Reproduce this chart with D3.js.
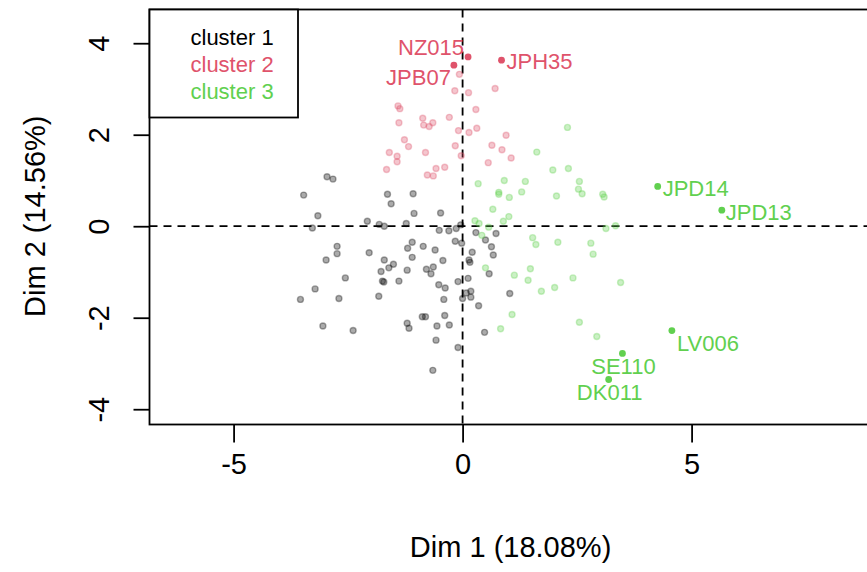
<!DOCTYPE html>
<html>
<head>
<meta charset="utf-8">
<script src="https://cdn.jsdelivr.net/npm/d3@7"></script>
<style>
	body { margin: 0; background: #ffffff; }
	text { font-family: "Liberation Sans", Arial, sans-serif; }
</style>
</head>
<body>
<div id="chart"></div>
<script>

// nomes e cores dos clusters
var clusterNames = ["cluster 1", "cluster 2", "cluster 3"];
var clusterColors = ["#000000", "#DF536B", "#61D04F"];

// individuos [Dim 1, Dim 2] por cluster
var cluster1 = [
	[-2.96, 1.08], [-2.83, 1.03], [-3.47, 0.68], [-1.64, 0.70], [-1.08, 0.71], [-1.56, 0.49],
	[-3.16, 0.23], [-1.06, 0.28], [-0.48, 0.29], [-2.08, 0.11], [-3.28, -0.04], [-1.82, 0.04],
	[-1.71, 0.00], [-1.23, 0.06], [-0.51, -0.09], [-0.30, -0.10], [-0.14, -0.05], [-0.04, 0.03],
	[-2.74, -0.44], [-2.74, -0.60], [-2.04, -0.58], [-1.10, -0.35], [-1.20, -0.48], [-0.86, -0.44],
	[-0.60, -0.52], [-1.10, -0.68], [-0.16, -0.33], [-0.02, -0.37], [-2.98, -0.74], [0.21, -0.57],
	[-1.71, -0.74], [-1.51, -0.83], [-1.61, -0.91], [-1.78, -0.99], [-1.21, -0.96], [-0.79, -0.94],
	[-0.64, -0.89], [-0.69, -1.04], [-0.43, -0.75], [0.14, -0.74], [0.16, -0.79], [-2.56, -1.13],
	[-1.75, -1.20], [-1.72, -1.22], [-1.39, -1.20], [-0.52, -1.28], [-0.38, -1.35], [-0.10, -1.21],
	[0.12, -1.14], [-3.22, -1.37], [-3.54, -1.60], [-2.70, -1.58], [-1.83, -1.53], [-0.41, -1.60],
	[0.00, -1.58], [0.08, -1.46], [0.18, -1.42], [0.18, -1.55], [0.35, -1.74], [-3.05, -2.18],
	[-2.39, -2.28], [-1.21, -2.12], [-1.17, -2.23], [-0.88, -1.98], [-0.81, -1.98], [-0.39, -1.95],
	[-0.56, -2.18], [-0.29, -2.16], [-0.58, -2.49], [-0.10, -2.65], [-0.65, -3.15], [0.48, -2.32],
	[0.29, -0.14], [0.50, -0.30], [0.73, -0.16], [0.63, -0.45], [0.67, -0.63], [0.58, -1.04],
	[1.03, -1.47]
];
var cluster2 = [
	[-0.17, 2.96], [0.13, 2.92], [-1.41, 2.63], [-1.37, 2.57], [0.29, 2.55], [-1.39, 2.26],
	[-0.87, 2.36], [-0.65, 2.26], [-0.85, 2.21], [-0.73, 2.18], [-0.29, 2.38], [-0.09, 2.09],
	[0.14, 2.05], [0.31, 2.14], [-1.27, 1.89], [-1.18, 1.74], [-1.60, 1.61], [-1.43, 1.53],
	[-1.43, 1.41], [-0.81, 1.61], [-0.16, 1.76], [-0.03, 1.54], [-1.66, 1.24], [-0.58, 1.26],
	[-0.39, 1.29], [-0.77, 1.12], [-0.64, 1.10], [-0.07, 3.32], [0.71, 3.01], [0.95, 1.99],
	[0.64, 1.77], [0.86, 1.67], [1.06, 1.49], [0.56, 1.39]
];
var cluster3 = [
	[0.34, 0.93], [0.79, 0.70], [1.02, 0.63], [0.66, 0.37], [1.01, 0.21], [0.89, 0.11],
	[0.27, 0.12], [0.36, 0.06], [0.57, -0.02], [0.42, -0.20], [1.53, -0.25], [1.60, -0.40],
	[2.08, -0.35], [2.80, -0.37], [2.85, -0.61], [3.13, -0.05], [3.34, 0.01], [0.50, -0.91],
	[1.13, -1.07], [1.48, -0.93], [1.43, -1.18], [1.72, -1.42], [2.01, -1.34], [2.41, -1.13],
	[3.45, -1.23], [1.08, -1.93], [0.83, -2.24], [2.55, -2.10], [2.93, -2.41], [2.29, 2.16],
	[1.62, 1.62], [1.97, 1.23], [2.31, 1.26], [0.91, 1.00], [1.37, 0.98], [0.79, 0.74],
	[1.29, 0.75], [2.05, 0.66], [2.55, 0.98], [2.53, 0.81], [2.61, 0.71], [3.06, 0.70],
	[3.09, 0.64]
];

// individuos destacados
var labelNames = ["NZ015", "JPB07", "JPH35", "JPD14", "JPD13", "LV006", "SE110", "DK011"];
var labelDim1 = [0.12, -0.19, 0.85, 4.26, 5.66, 4.57, 3.49, 3.19];
var labelDim2 = [3.70, 3.52, 3.63, 0.87, 0.35, -2.28, -2.78, -3.35];
var labelCluster = [2, 2, 2, 3, 3, 3, 3, 3];

// posicao dos rotulos (pixels, relativo ao ponto)
var labelDx = [-4, -3, 5, 5, 4, 5, 1, 1];
var labelDy = [-2, 20, 9, 10, 9.5, 20, 21, 21];
var labelAnchor = ["end", "end", "start", "start", "start", "start", "middle", "middle"];

// eixos
var xTicks = [-5, 0, 5];
var yTicks = [-4, -2, 0, 2, 4];
var xTitle = "Dim 1 (18.08%)";
var yTitle = "Dim 2 (14.56%)";

var width = 867;
var height = 572;
var box = {left: 149.5, top: 9.5, right: 880, bottom: 424.5};

var svg = d3.select("#chart").append("svg")
	.attr("width", width)
	.attr("height", height);

var xScale = d3.scaleLinear()
	.domain([-6.836, 9.1])
	.range([box.left, box.left + (9.1 + 6.836) * 45.8]);

var yScale = d3.scaleLinear()
	.domain([-4.334, 4.737])
	.range([box.bottom, box.top]);

drawAxes();
drawRefLines();
drawCluster(cluster1, 1);
drawCluster(cluster2, 2);
drawCluster(cluster3, 3);
drawLabels();
drawLegend();

function drawAxes() {
	// eixo x
	var xAxis = svg.append("g")
		.attr("transform", "translate(0," + box.bottom + ")")
		.call(d3.axisBottom(xScale).tickValues(xTicks).tickSize(18).tickPadding(11).tickFormat(d3.format("d")));
	xAxis.select(".domain").remove();
	xAxis.selectAll("line").attr("stroke", "#000").attr("stroke-width", 1.8);
	xAxis.selectAll("text").attr("font-size", 29).attr("fill", "#000")
		.attr("font-family", "Liberation Sans, Arial, sans-serif")
		.text(function(d) { return d < 0 ? "-" + Math.abs(d) : d; });

	// eixo y
	var yAxis = svg.append("g")
		.attr("transform", "translate(" + box.left + ",0)")
		.call(d3.axisLeft(yScale).tickValues(yTicks).tickSize(16).tickFormat(function(d) { return d < 0 ? "-" + Math.abs(d) : d; }));
	yAxis.select(".domain").remove();
	yAxis.selectAll("line").attr("stroke", "#000").attr("stroke-width", 1.8);
	yAxis.selectAll("text").remove();
	yAxis.selectAll(".tick").append("text")
		.attr("transform", "translate(-41,0) rotate(-90)")
		.attr("text-anchor", "middle")
		.attr("font-size", 29)
		.attr("fill", "#000")
		.text(function(d) { return d < 0 ? "-" + Math.abs(d) : d; });

	// caixa
	svg.append("rect")
		.attr("x", box.left)
		.attr("y", box.top)
		.attr("width", box.right - box.left)
		.attr("height", box.bottom - box.top)
		.attr("fill", "none")
		.attr("stroke", "#000")
		.attr("stroke-width", 1.8);

	// titulos
	svg.append("text")
		.attr("x", xScale(0) + 48)
		.attr("y", 557)
		.attr("text-anchor", "middle")
		.attr("font-size", 29)
		.text(xTitle);
	svg.append("text")
		.attr("transform", "translate(45," + (yScale(0) - 10) + ") rotate(-90)")
		.attr("text-anchor", "middle")
		.attr("font-size", 29)
		.text(yTitle);
}

function drawRefLines() {
	svg.append("line")
		.attr("x1", box.left).attr("x2", box.right)
		.attr("y1", yScale(0)).attr("y2", yScale(0))
		.attr("stroke", "#000").attr("stroke-width", 1.8)
		.attr("stroke-dasharray", "8,6");
	svg.append("line")
		.attr("x1", xScale(0)).attr("x2", xScale(0))
		.attr("y1", box.top).attr("y2", box.bottom)
		.attr("stroke", "#000").attr("stroke-width", 1.8)
		.attr("stroke-dasharray", "8,6");
}

function drawCluster(data, cl) {
	var color = clusterColors[cl - 1];
	svg.append("g").selectAll("circle")
		.data(data)
		.enter()
		.append("circle")
		.attr("cx", function(d) { return xScale(d[0]); })
		.attr("cy", function(d) { return yScale(d[1]); })
		.attr("r", 3)
		.attr("fill", color)
		.attr("fill-opacity", 0.33)
		.attr("stroke", color)
		.attr("stroke-opacity", 0.33)
		.attr("stroke-width", 1.4);
}

function drawLabels() {
	var idx = d3.range(labelNames.length);
	var g = svg.append("g");
	g.selectAll("circle")
		.data(idx)
		.enter()
		.append("circle")
		.attr("cx", function(i) { return xScale(labelDim1[i]); })
		.attr("cy", function(i) { return yScale(labelDim2[i]); })
		.attr("r", 3.4)
		.attr("fill", function(i) { return clusterColors[labelCluster[i] - 1]; });
	g.selectAll("text")
		.data(idx)
		.enter()
		.append("text")
		.attr("x", function(i) { return xScale(labelDim1[i]) + labelDx[i]; })
		.attr("y", function(i) { return yScale(labelDim2[i]) + labelDy[i]; })
		.attr("text-anchor", function(i) { return labelAnchor[i]; })
		.attr("font-size", 22)
		.attr("fill", function(i) { return clusterColors[labelCluster[i] - 1]; })
		.text(function(i) { return labelNames[i]; });
}

function drawLegend() {
	svg.append("rect")
		.attr("x", box.left)
		.attr("y", box.top)
		.attr("width", 148.5)
		.attr("height", 108)
		.attr("fill", "#fff")
		.attr("stroke", "#000")
		.attr("stroke-width", 1.8);
	svg.append("g").selectAll("text")
		.data(clusterNames)
		.enter()
		.append("text")
		.attr("x", 190.5)
		.attr("y", function(d, i) { return 45 + i * 27.2; })
		.attr("font-size", 22)
		.attr("fill", function(d, i) { return clusterColors[i]; })
		.text(function(d) { return d; });
}

</script>
</body>
</html>
